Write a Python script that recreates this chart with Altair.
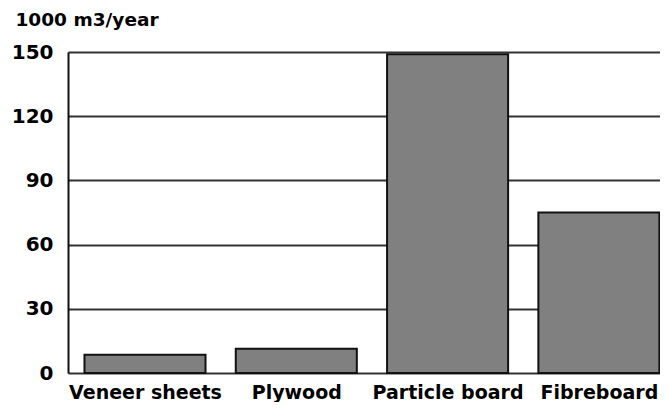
import json
import altair as alt
import pandas as pd

categories = ["Veneer sheets", "Plywood", "Particle board", "Fibreboard"]
values = [8.5, 11.3, 149, 75]
y_ticks = [0, 30, 60, 90, 120, 150]

df = pd.DataFrame({
    "idx": list(range(len(categories))),
    "product": categories,
    "volume": values,
})

FONT = "DejaVu Sans"
label_expr = json.dumps(categories) + "[datum.value]"

chart = alt.Chart(df).transform_calculate(
    x0="datum.idx - 0.4", x1="datum.idx + 0.4"
).mark_rect(
    color="#808080", stroke="#111111", strokeWidth=2
).encode(
    x=alt.X(
        "x0:Q",
        scale=alt.Scale(domain=[-0.5089, 3.4039], nice=False, zero=False),
        axis=alt.Axis(
            values=list(range(len(categories))), labelExpr=label_expr,
            title=None, labelAngle=0, domain=False, ticks=False, grid=False,
            labelFont=FONT, labelFontWeight="bold", labelFontSize=19,
            labelColor="#000000", labelPadding=10, labelFlush=False,
            labelOverlap=False, labelBound=False,
        ),
    ),
    x2="x1:Q",
    y=alt.Y(
        "volume:Q",
        scale=alt.Scale(domain=[0, 150], nice=False),
        axis=alt.Axis(
            values=y_ticks, title="1000 m3/year", titleAngle=0,
            titleAlign="left", titleBaseline="middle", titleX=-53, titleY=-33,
            titleFont=FONT, titleFontWeight="bold", titleFontSize=18.5,
            titleColor="#000000",
            labelFont=FONT, labelFontWeight="bold", labelFontSize=20,
            labelColor="#000000", labelPadding=15, ticks=False,
            domain=True, domainColor="#111111", domainWidth=2,
            grid=True, gridColor="#333333", gridWidth=2,
        ),
    ),
    y2=alt.datum(0),
    tooltip=["product:N", "volume:Q"],
).properties(
    width=592, height=321,
    autosize=alt.AutoSizeParams(type="none"),
    padding={"left": 60, "top": 44, "right": 0, "bottom": 29},
).configure_view(stroke=None).configure(background="#ffffff")

chart.save("out.html", embed_options={"renderer": "svg", "actions": False})
